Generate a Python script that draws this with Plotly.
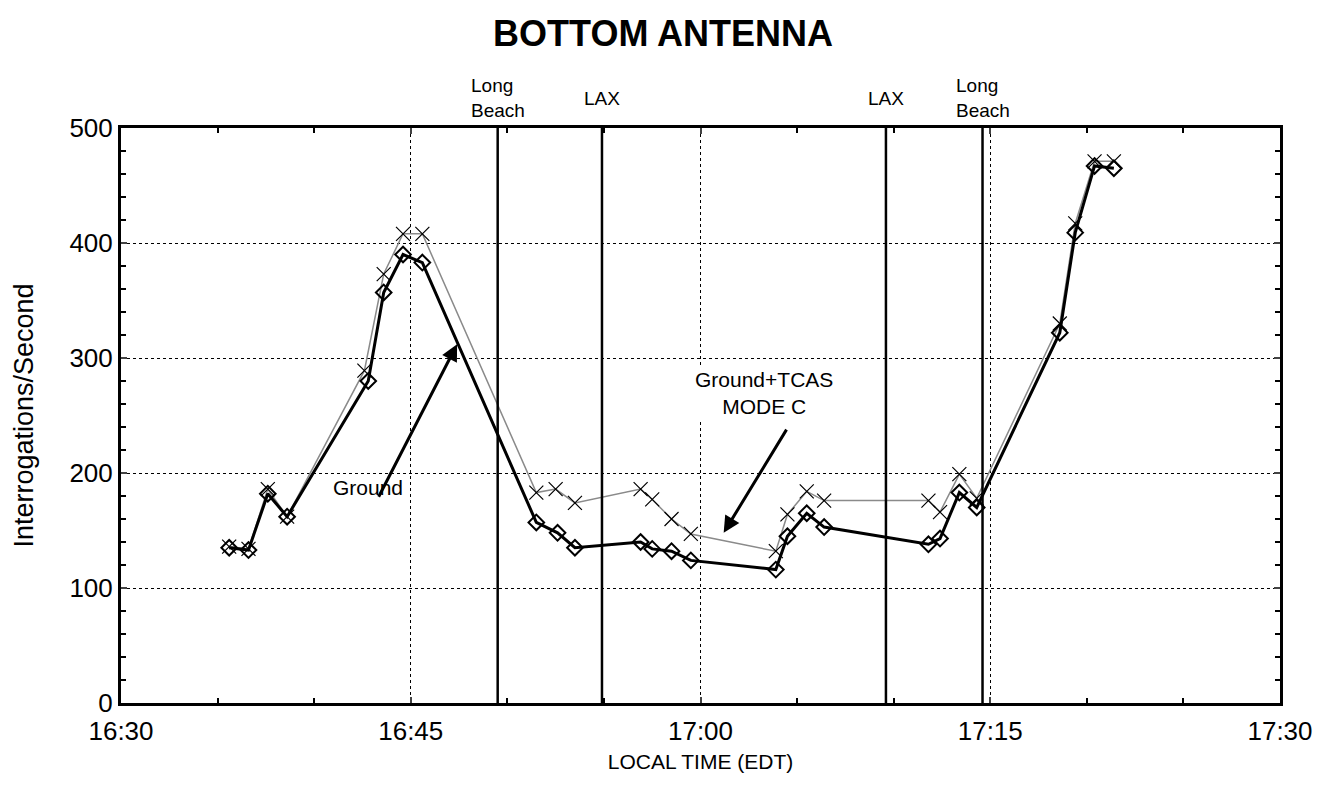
import plotly.graph_objects as go

# minutes after 16:30 (local time, EDT)
ground_min = [5.6, 6.6, 7.6, 8.6, 12.8, 13.6, 14.6, 15.6, 21.5, 22.6, 23.5, 26.9, 27.5,
              28.5, 29.5, 33.9, 34.5, 35.5, 36.4, 41.8, 42.4, 43.4, 44.3, 48.6, 49.4, 50.4, 51.4]
ground = [135, 133, 182, 162, 280, 357, 390, 383, 157, 148, 135, 140, 134,
          132, 124, 116, 145, 165, 153, 138, 143, 183, 170, 322, 409, 467, 465]

tcas_min = [5.6, 6.6, 7.6, 8.6, 12.6, 13.6, 14.6, 15.6, 21.5, 22.5, 23.5, 26.9, 27.5,
            28.5, 29.5, 33.9, 34.5, 35.5, 36.4, 41.8, 42.4, 43.4, 44.3, 48.6, 49.4, 50.4, 51.4]
tcas = [136, 134, 186, 162, 289, 373, 408, 408, 183, 186, 174, 186, 177,
        160, 147, 132, 164, 184, 176, 176, 166, 199, 178, 330, 417, 471, 471]

airport_min = [19.5, 24.9, 39.6, 44.6]
airport_lbl = ["Long<br>Beach", "LAX", "LAX", "Long<br>Beach"]

tick_min = [0, 15, 30, 45, 60]
tick_lbl = ["16:30", "16:45", "17:00", "17:15", "17:30"]

FONT = "Liberation Sans, Arial, sans-serif"

fig = go.Figure()

fig.add_trace(go.Scatter(
    x=tcas_min, y=tcas, name="Ground+TCAS MODE C",
    mode="lines+markers",
    line=dict(color="#8a8a8a", width=1.5),
    marker=dict(symbol="x-thin-open", size=14, color="black",
                line=dict(color="black", width=1.2)),
    showlegend=False))

fig.add_trace(go.Scatter(
    x=ground_min, y=ground, name="Ground",
    mode="lines+markers",
    line=dict(color="black", width=3),
    marker=dict(symbol="diamond-open", size=12, color="black",
                line=dict(color="black", width=2)),
    showlegend=False))

# airport passes
for t, lbl in zip(airport_min, airport_lbl):
    fig.add_shape(type="line", xref="x", yref="paper", x0=t, x1=t, y0=0, y1=1,
                  line=dict(color="black", width=2.5))
    fig.add_annotation(x=t, y=1.052, xref="x", yref="paper", yanchor="middle",
                       text=lbl, showarrow=False, align="left",
                       font=dict(size=19, color="black", family=FONT))

# callouts
fig.add_annotation(x=17.4, y=312, ax=13.3, ay=178, xref="x", yref="y",
                   axref="x", ayref="y", text="", showarrow=True,
                   arrowhead=2, arrowsize=1.1, arrowwidth=3, arrowcolor="black")
fig.add_annotation(x=12.8, y=187, xref="x", yref="y", text="Ground",
                   showarrow=False, font=dict(size=21, color="black", family=FONT))
fig.add_annotation(x=31.2, y=148, ax=34.5, ay=239, xref="x", yref="y",
                   axref="x", ayref="y", text="", showarrow=True,
                   arrowhead=2, arrowsize=1.1, arrowwidth=3, arrowcolor="black")
fig.add_annotation(x=33.3, y=270, xref="x", yref="y", text="Ground+TCAS<br>MODE C",
                   showarrow=False, font=dict(size=21, color="black", family=FONT),
                   bgcolor="white")

fig.update_layout(
    width=1326, height=804,
    paper_bgcolor="white", plot_bgcolor="white",
    margin=dict(l=113, r=54, t=120, b=109),
    font=dict(family=FONT, color="black"),
    title=dict(text="<b>BOTTOM ANTENNA</b>", x=0.494, xanchor="center",
               y=0.969, yanchor="middle", font=dict(size=36, family=FONT)),
)

fig.update_xaxes(
    range=[0, 60], tickvals=tick_min, ticktext=tick_lbl,
    tickfont=dict(size=26), ticks="inside", ticklen=6, tickwidth=2,
    ticklabelstandoff=3,
    showline=True, linecolor="black", linewidth=3, mirror="ticks",
    showgrid=True, gridcolor="black", griddash="dot", gridwidth=1.2,
    zeroline=False,
    minor=dict(dtick=5, tick0=0, ticks="inside", ticklen=5, tickwidth=2,
               tickcolor="black", showgrid=False),
    title=dict(text="LOCAL TIME (EDT)", font=dict(size=21), standoff=10))

fig.update_yaxes(
    range=[0, 500], dtick=100,
    tickfont=dict(size=26), ticks="inside", ticklen=6, tickwidth=2,
    showline=True, linecolor="black", linewidth=3, mirror="ticks",
    showgrid=True, gridcolor="black", griddash="dot", gridwidth=1.2,
    zeroline=False,
    minor=dict(dtick=20, tick0=0, ticks="inside", ticklen=5, tickwidth=2,
               tickcolor="black", showgrid=False),
    title=dict(text="Interrogations/Second", font=dict(size=27), standoff=28))

fig.write_html("out.html")
